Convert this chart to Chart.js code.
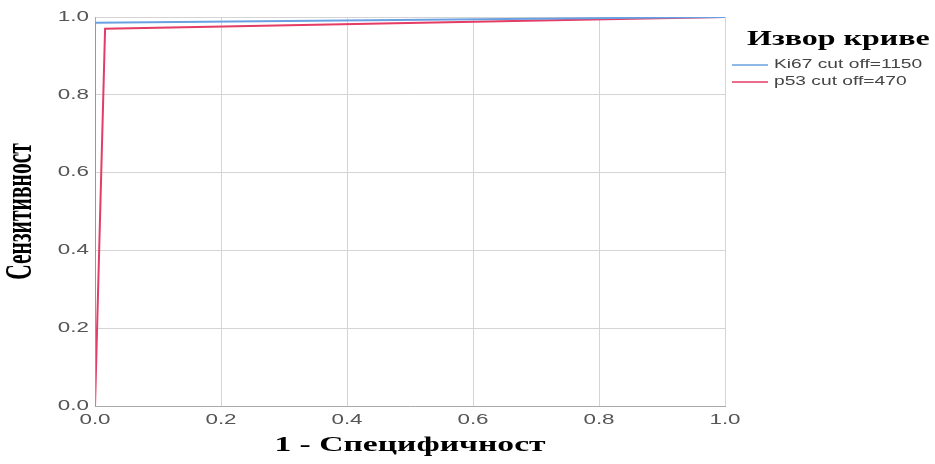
<!DOCTYPE html>
<html>
<head>
<meta charset="utf-8">
<script src="https://cdn.jsdelivr.net/npm/chart.js@4.4.0/dist/chart.umd.min.js"></script>
<style>
  html, body { margin: 0; padding: 0; background: #fff; }
  #wrap { width: 935px; height: 464px; }
</style>
</head>
<body>
<div id="wrap"><canvas id="roc"></canvas></div>
<script>
// ROC curve points (1 - specificity, sensitivity)
const ki67X = [0, 0, 1];
const ki67Y = [0, 0.985, 1];
const p53X = [0, 0.016, 1];
const p53Y = [0, 0.97, 1];
const seriesLabels = ['Ki67 cut off=1150', 'p53 cut off=470'];
const seriesColors = ['rgb(105,160,225)', 'rgb(228,60,100)'];
const legendTitle = 'Извор криве';

// the source image is stretched sideways, so text is drawn wide
const STRETCH = 1.6;

function toPoints(xs, ys) {
    return xs.map((x, i) => ({ x: x, y: ys[i] }));
}

const ctx = document.getElementById('roc').getContext('2d');
const plainFill = ctx.fillText.bind(ctx);
ctx.fillText = function (text, x, y, maxWidth) {
    const m = ctx.getTransform();
    ctx.save();
    ctx.translate(x, y);
    if (Math.abs(m.b) > 0.5) {
        // rotated axis title: shorter along the text, thicker across it
        ctx.scale(0.86, 1.55);
    } else {
        ctx.scale(STRETCH, 1);
    }
    plainFill(text, 0, 0);
    ctx.restore();
};

// simple legend drawn to the right of the plot
const sideLegend = {
    id: 'sideLegend',
    afterDraw(chart) {
        const c = chart.ctx;
        const left = chart.chartArea.right + 7;
        c.save();
        c.fillStyle = '#000';
        c.font = 'bold 20px "Liberation Serif"';
        c.textBaseline = 'middle';
        c.fillText(legendTitle, left + 15, 40);
        c.font = '12px "Liberation Sans"';
        chart.data.datasets.forEach((ds, i) => {
            const y = 65 + i * 17;
            c.strokeStyle = ds.borderColor;
            c.lineWidth = 1.5;
            c.beginPath();
            c.moveTo(left, y);
            c.lineTo(left + 36, y);
            c.stroke();
            c.fillStyle = '#444';
            c.fillText(ds.label, left + 42, y);
        });
        c.restore();
    }
};

const rocChart = new Chart(ctx, {
    type: 'line',
    data: {
        datasets: [
            {
                label: seriesLabels[0],
                data: toPoints(ki67X, ki67Y),
                borderColor: seriesColors[0],
                borderWidth: 2,
                pointRadius: 0,
                fill: false,
                tension: 0
            },
            {
                label: seriesLabels[1],
                data: toPoints(p53X, p53Y),
                borderColor: seriesColors[1],
                borderWidth: 2,
                pointRadius: 0,
                fill: false,
                tension: 0
            }
        ]
    },
    plugins: [sideLegend],
    options: {
        responsive: true,
        maintainAspectRatio: false,
        animation: false,
        layout: { padding: { left: 0, right: 210, top: 17, bottom: 0 } },
        plugins: {
            legend: { display: false },
            tooltip: { enabled: false }
        },
        scales: {
            x: {
                type: 'linear',
                min: 0,
                max: 1,
                afterFit: (s) => { s.height = 58; },
                ticks: {
                    stepSize: 0.2,
                    padding: 6,
                    color: '#555',
                    font: { family: 'Liberation Sans', size: 14 },
                    callback: (v) => v.toFixed(1)
                },
                grid: { color: '#d4d4d4', drawTicks: false },
                border: { color: '#aaa' },
                title: {
                    display: true,
                    text: '1 - Специфичност',
                    color: '#000',
                    font: { family: 'Liberation Serif', size: 21, weight: 'bold' },
                    padding: { top: 0, bottom: 6 }
                }
            },
            y: {
                min: 0,
                max: 1,
                afterFit: (s) => { s.width = 95; },
                ticks: {
                    stepSize: 0.2,
                    padding: 6,
                    color: '#555',
                    font: { family: 'Liberation Sans', size: 14 },
                    callback: (v) => v.toFixed(1)
                },
                grid: { color: '#d4d4d4', drawTicks: false },
                border: { color: '#aaa' },
                title: {
                    display: true,
                    text: 'Сензитивност',
                    color: '#000',
                    font: { family: 'Liberation Serif', size: 25, weight: 'bold' },
                    padding: { top: 6, bottom: 0 }
                }
            }
        }
    }
});
</script>
</body>
</html>
